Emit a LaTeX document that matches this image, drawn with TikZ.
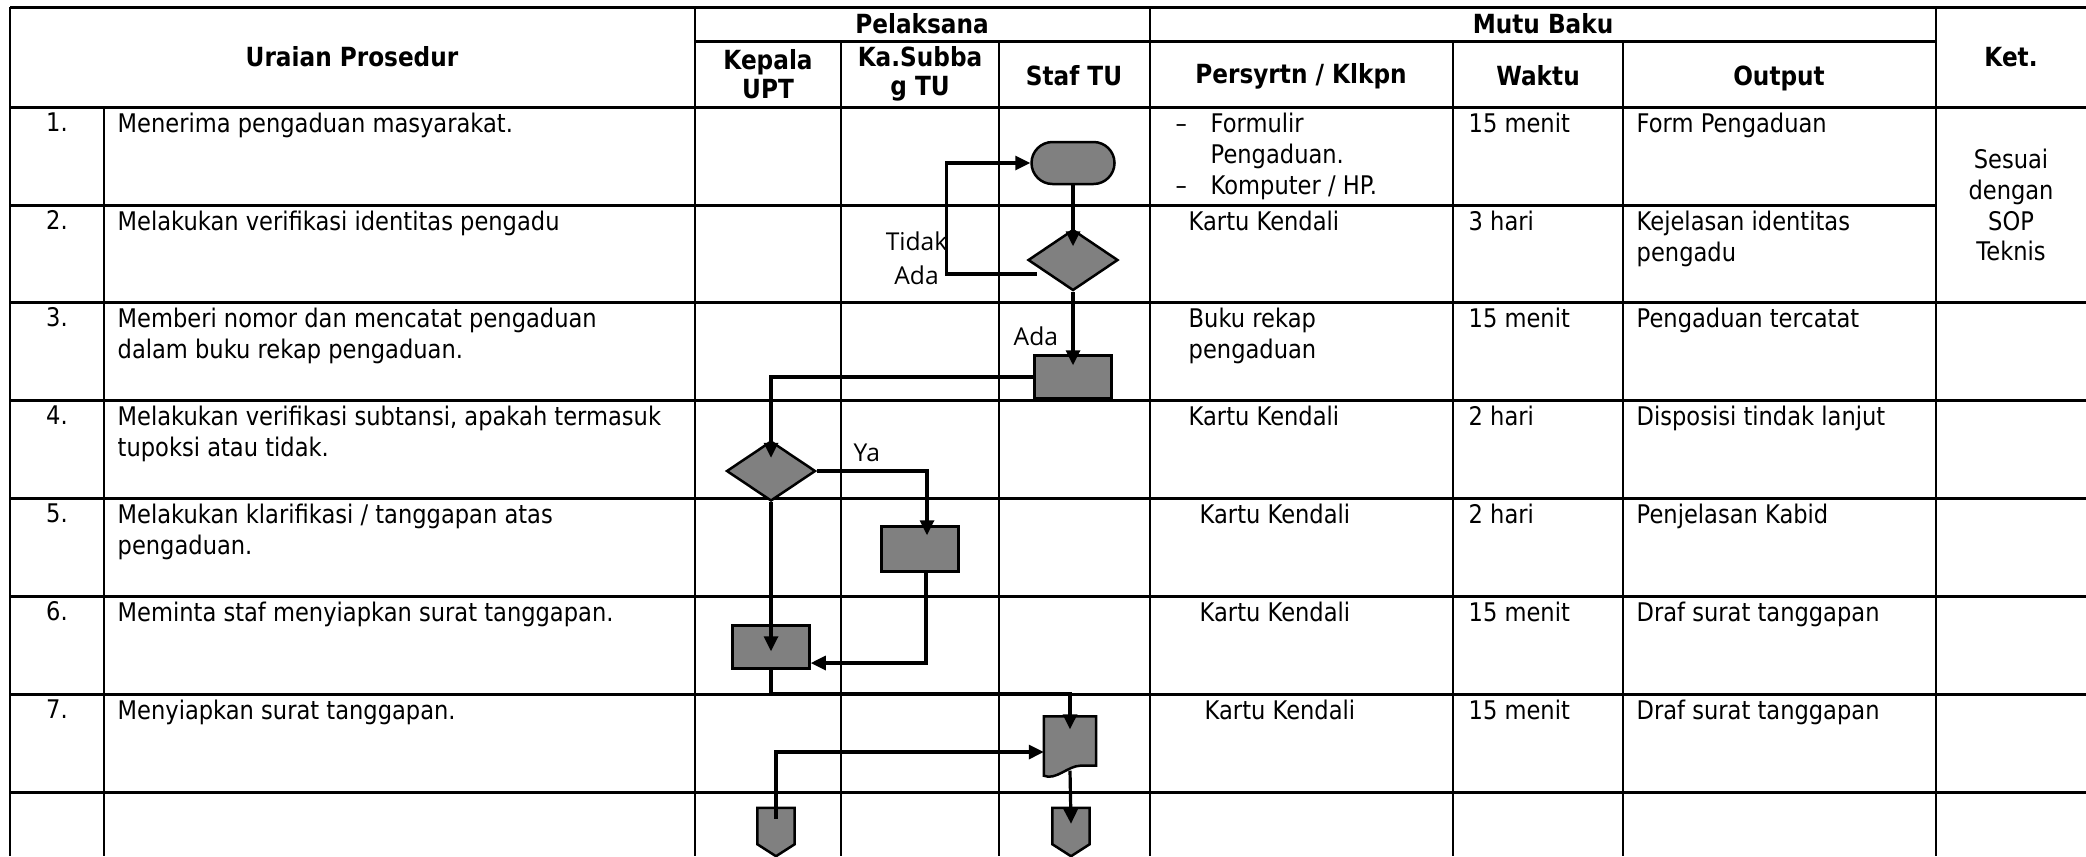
\documentclass[tikz,border=0pt]{standalone}
\usepackage{fontspec}
\newfontfamily\tabfont{DejaVu Sans}[FakeStretch=0.88]
\newfontfamily\lblfont{Open Sans}
\usetikzlibrary{shapes,arrows.meta,positioning}

\tikzset{
  hline/.style={line width=0.3mm},
  vline/.style={line width=0.24mm},
  cell/.style={inner sep=0pt, align=left, font=\tabfont\fontsize{7.3pt}{8.8pt}\selectfont},
  head/.style={inner sep=0pt, align=center, font=\tabfont\bfseries\fontsize{7.5pt}{8.4pt}\selectfont},
  lbl/.style={inner sep=0pt, align=center, font=\lblfont\fontsize{7pt}{9.7pt}\selectfont},
  shp/.style={draw, fill=gray, line width=0.25mm, inner sep=0pt},
  flow/.style={line width=0.32mm, -{Triangle[length=1.5mm,width=1.4mm]}},
}

\begin{document}
\begin{tikzpicture}[x=0.1mm, y=-0.1mm]
\useasboundingbox (0,0) rectangle (2086,856);

% table grid
\draw[hline] (10,7) -- (2086,7);
\draw[hline] (695,41) -- (1936,41);
\draw[hline] (10,107) -- (2086,107);
\draw[hline] (10,205) -- (1936,205);
\draw[hline] (10,302) -- (2086,302);
\draw[hline] (10,400) -- (2086,400);
\draw[hline] (10,498) -- (2086,498);
\draw[hline] (10,596) -- (2086,596);
\draw[hline] (10,694) -- (2086,694);
\draw[hline] (10,792) -- (2086,792);
\draw[vline] (10,7) -- (10,856);
\draw[vline] (104,107) -- (104,856);
\draw[vline] (695,7) -- (695,856);
\draw[vline] (841,41) -- (841,856);
\draw[vline] (999,41) -- (999,856);
\draw[vline] (1150,7) -- (1150,856);
\draw[vline] (1453,41) -- (1453,856);
\draw[vline] (1623,41) -- (1623,856);
\draw[vline] (1936,7) -- (1936,856);

% header
\node[head] (uraian) at (352,57) {Uraian Prosedur};
\node[head] (pelaksana) at (922,24) {Pelaksana};
\node[head] (kepala) at (768,74) {Kepala\\UPT};
\node[head] (kasubbag) at (920,74) {Ka.Subba\\g TU};
\node[head] (staf) at (1074,76) {Staf TU};
\node[head] (mutu) at (1543,24) {Mutu Baku};
\node[head] (syarat) at (1301,76) {Persyrtn / Klkpn};
\node[head] (waktu) at (1538,76) {Waktu};
\node[head] (output) at (1779,78) {Output};
\node[head] (ket) at (2011,57) {Ket.};

% row 1
\node[cell, anchor=north] (no1) at (57,112) {1.};
\node[cell, anchor=north west] (urai1) at (117,112) {Menerima pengaduan masyarakat.};
\node[cell, anchor=north west] (syarat1) at (1175,112)
  {\makebox[3.5mm][l]{–}Formulir\\\hspace*{3.5mm}Pengaduan.\\\makebox[3.5mm][l]{–}Komputer / HP.};
\node[cell, anchor=north west] (waktu1) at (1468,112) {15 menit};
\node[cell, anchor=north west] (output1) at (1636,112) {Form Pengaduan};
\node[cell, align=center] (ket1) at (2011,205) {Sesuai\\dengan\\SOP\\Teknis};

% row 2
\node[cell, anchor=north] (no2) at (57,210) {2.};
\node[cell, anchor=north west] (urai2) at (117,210) {Melakukan verifikasi identitas pengadu};
\node[cell, anchor=north west] (syarat2) at (1188,210) {Kartu Kendali};
\node[cell, anchor=north west] (waktu2) at (1468,210) {3 hari};
\node[cell, anchor=north west] (output2) at (1636,210) {Kejelasan identitas\\pengadu};

% row 3
\node[cell, anchor=north] (no3) at (57,307) {3.};
\node[cell, anchor=north west] (urai3) at (117,307) {Memberi nomor dan mencatat pengaduan\\dalam buku rekap pengaduan.};
\node[cell, anchor=north west] (syarat3) at (1188,307) {Buku rekap\\pengaduan};
\node[cell, anchor=north west] (waktu3) at (1468,307) {15 menit};
\node[cell, anchor=north west] (output3) at (1636,307) {Pengaduan tercatat};

% row 4
\node[cell, anchor=north] (no4) at (57,405) {4.};
\node[cell, anchor=north west] (urai4) at (117,405) {Melakukan verifikasi subtansi, apakah termasuk\\tupoksi atau tidak.};
\node[cell, anchor=north west] (syarat4) at (1188,405) {Kartu Kendali};
\node[cell, anchor=north west] (waktu4) at (1468,405) {2 hari};
\node[cell, anchor=north west] (output4) at (1636,405) {Disposisi tindak lanjut};

% row 5
\node[cell, anchor=north] (no5) at (57,503) {5.};
\node[cell, anchor=north west] (urai5) at (117,503) {Melakukan klarifikasi / tanggapan atas\\pengaduan.};
\node[cell, anchor=north west] (syarat5) at (1199,503) {Kartu Kendali};
\node[cell, anchor=north west] (waktu5) at (1468,503) {2 hari};
\node[cell, anchor=north west] (output5) at (1636,503) {Penjelasan Kabid};

% row 6
\node[cell, anchor=north] (no6) at (57,601) {6.};
\node[cell, anchor=north west] (urai6) at (117,601) {Meminta staf menyiapkan surat tanggapan.};
\node[cell, anchor=north west] (syarat6) at (1199,601) {Kartu Kendali};
\node[cell, anchor=north west] (waktu6) at (1468,601) {15 menit};
\node[cell, anchor=north west] (output6) at (1636,601) {Draf surat tanggapan};

% row 7
\node[cell, anchor=north] (no7) at (57,699) {7.};
\node[cell, anchor=north west] (urai7) at (117,699) {Menyiapkan surat tanggapan.};
\node[cell, anchor=north west] (syarat7) at (1204,699) {Kartu Kendali};
\node[cell, anchor=north west] (waktu7) at (1468,699) {15 menit};
\node[cell, anchor=north west] (output7) at (1636,699) {Draf surat tanggapan};

% flow shapes
\node[shp, rounded rectangle, minimum width=8.3mm, minimum height=4.2mm] (mulai) at (1073,163) {};
\node[shp, diamond, minimum width=9mm, minimum height=6.1mm] (cekid) at (1073,260) {};
\node[shp, minimum width=7.7mm, minimum height=4.3mm] (catat) at (1073,377) {};
\node[shp, diamond, minimum width=8.9mm, minimum height=6mm] (cektupoksi) at (771,471) {};
\node[shp, minimum width=7.7mm, minimum height=4.5mm] (klarif) at (920,549) {};
\node[shp, minimum width=7.7mm, minimum height=4.3mm] (minta) at (771,647) {};
\node[inner sep=0pt, minimum width=5.1mm, minimum height=5.8mm] (surat) at (1070,746) {};
\draw[shp] (surat.north west) -- (surat.north east) -- ([yshift=1mm]surat.south east)
  -- ([xshift=-1.6mm,yshift=1mm]surat.south east)
  .. controls +(-1.2mm,0) and +(1.2mm,-0.5mm) .. (surat.south west) -- cycle;
\node[inner sep=0pt, minimum width=3.6mm, minimum height=4.7mm] (keluar1) at (776,832) {};
\draw[shp] (keluar1.north west) -- (keluar1.north east) -- ([yshift=1.2mm]keluar1.south east)
  -- (keluar1.south) -- ([yshift=1.2mm]keluar1.south west) -- cycle;
\node[inner sep=0pt, minimum width=3.6mm, minimum height=4.7mm] (keluar2) at (1071,832) {};
\draw[shp] (keluar2.north west) -- (keluar2.north east) -- ([yshift=1.2mm]keluar2.south east)
  -- (keluar2.south) -- ([yshift=1.2mm]keluar2.south west) -- cycle;

% connectors
\draw[flow] ([xshift=1mm,yshift=-1.4mm]cekid.west) -- ++(-9mm,0) |- (mulai.west);
\draw[flow] (mulai.south) -- ([yshift=-1.8mm]cekid.north);
\draw[flow] (cekid.south) -- ([yshift=-1.1mm]catat.north);
\draw[flow] (catat.west) -| ([yshift=-1.8mm]cektupoksi.north);
\draw[flow] (cektupoksi.east) -| ([xshift=0.7mm,yshift=-1mm]klarif.north);
\draw[flow] (cektupoksi.south) -- ([yshift=-2.7mm]minta.north);
\draw[flow] ([xshift=0.6mm]klarif.south) |- ([yshift=-1.6mm]minta.east);
\draw[flow] (minta.south) -- ++(0,-2.35mm) -| ([yshift=-1.3mm]surat.north);
\draw[flow] ([yshift=0.5mm]surat.south) -- ([yshift=-1.6mm]keluar2.north);
\draw[flow] ([yshift=-1.1mm]keluar1.north) |- ([yshift=-0.6mm]surat.west);

% labels
\node[lbl, anchor=east] (tidakada) at (948,258) {Tidak\\Ada};
\node[lbl, anchor=base west] (ada) at (1013,345) {Ada};
\node[lbl, anchor=base west] (ya) at (853,461) {Ya};
\end{tikzpicture}
\end{document}
